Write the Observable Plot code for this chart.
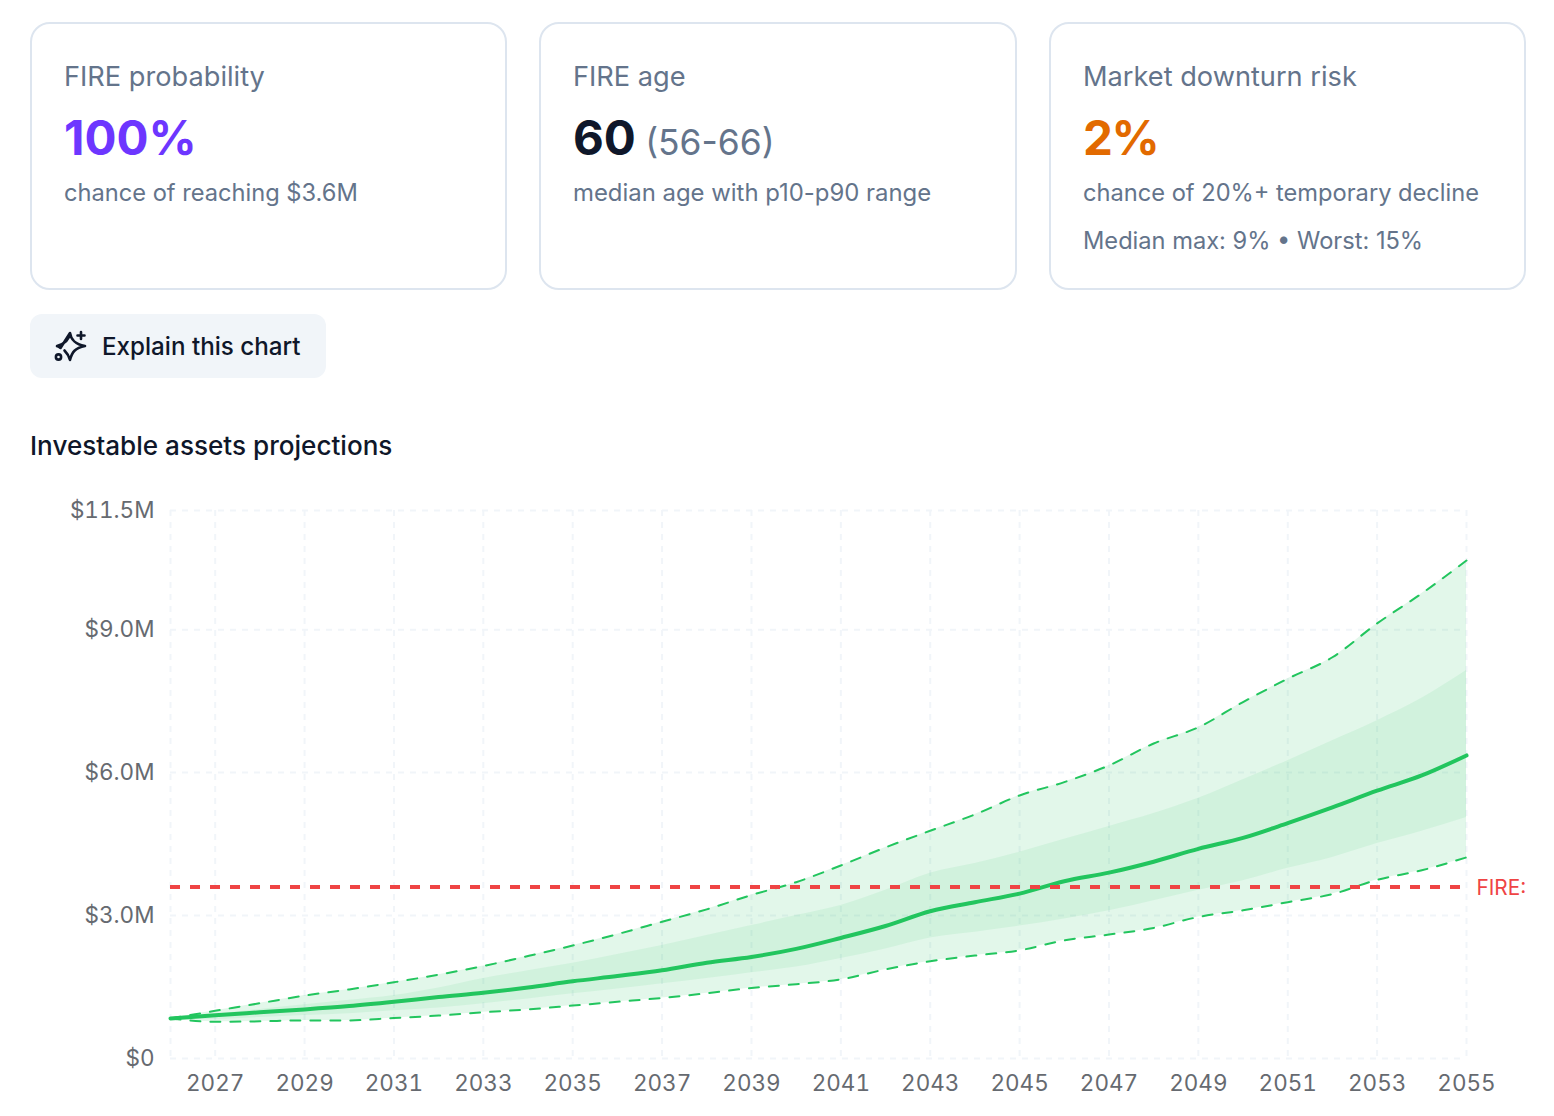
<!DOCTYPE html>
<html><head><meta charset="utf-8">
<script src="https://cdn.jsdelivr.net/npm/d3@7"></script>
<script src="https://cdn.jsdelivr.net/npm/@observablehq/plot@0.6"></script>
<style>
html,body{margin:0;padding:0;background:#fff;width:1554px;height:1116px;overflow:hidden;font-family:Inter,sans-serif}
.card{position:absolute;top:22px;height:264px;width:473px;border:2px solid #dde5ef;border-radius:20px;box-sizing:content-box}
.t{position:absolute;white-space:nowrap;line-height:1}
.lab{font-size:27.2px;color:#64748b;top:39px;left:32px}
.val{font-size:47.5px;font-weight:700;top:90px;left:32px}
.sub{font-size:23.65px;color:#64748b;top:157px;left:32px}
#btn{position:absolute;left:30px;top:314px;width:296px;height:64px;background:#f1f5f9;border-radius:12px}
#title{position:absolute;left:30px;top:433px;font-size:26.1px;font-weight:500;color:#0f172a;line-height:1;white-space:nowrap}
#chart{position:absolute;left:30px;top:490px}
</style></head><body>
<div class="card" style="left:30px">
<div class="t lab">FIRE probability</div>
<div class="t val" style="color:#6d36ff">100%</div>
<div class="t sub">chance of reaching $3.6M</div>
</div>
<div class="card" style="left:539px;width:474px">
<div class="t lab">FIRE age</div>
<div class="t val" style="color:#0f172a">60 <span style="font-size:35.4px;font-weight:400;color:#64748b;margin-left:-2px">(56-66)</span></div>
<div class="t sub" style="font-size:23.9px">median age with p10-p90 range</div>
</div>
<div class="card" style="left:1049px">
<div class="t lab">Market downturn risk</div>
<div class="t val" style="color:#e26a00;letter-spacing:-1.5px">2%</div>
<div class="t sub">chance of 20%+ temporary decline</div>
<div class="t sub" style="top:205px">Median max: 9% • Worst: 15%</div>
</div>
<div id="btn">
<svg style="position:absolute;left:24px;top:16px" width="34" height="34" viewBox="0 0 34 34" fill="none" stroke="#0f172a" stroke-width="2.6" stroke-linejoin="round" stroke-linecap="round">
<path d="M16 3C17 10 21 14 31 16C21 18 18 22 16 30C15 26 13 23 10.5 20.5M6.5 18C5.5 17 4 16.5 3 16C11 14 15 10 16 3Z"/>
<path d="M27 2v7M23.5 5.5h7"/><circle cx="4.5" cy="27" r="2.6"/>
</svg>
<div class="t" style="left:72px;top:21px;font-size:24.2px;font-weight:500;color:#0f172a">Explain this chart</div>
</div>
<div id="title">Investable assets projections</div>
<div id="chart"></div>
<script>
const years=[2026,2027,2028,2029,2030,2031,2032,2033,2034,2035,2036,2037,2038,2039,2040,2041,2042,2043,2044,2045,2046,2047,2048,2049,2050,2051,2052,2053,2054,2055];
const p10=[.84,.77,.78,.80,.80,.85,.90,.97,1.03,1.11,1.19,1.27,1.37,1.48,1.56,1.66,1.87,2.04,2.16,2.27,2.48,2.60,2.74,2.97,3.11,3.28,3.45,3.75,3.95,4.22];
const p25=[.84,.82,.86,.90,.94,1.0,1.06,1.15,1.25,1.36,1.46,1.57,1.68,1.80,1.92,2.10,2.30,2.53,2.65,2.78,2.93,3.10,3.31,3.53,3.73,3.99,4.22,4.51,4.77,5.06];
const p50=[.84,.91,.97,1.03,1.10,1.19,1.29,1.38,1.49,1.62,1.73,1.85,2.01,2.13,2.30,2.53,2.78,3.09,3.28,3.46,3.72,3.90,4.13,4.40,4.63,4.94,5.27,5.62,5.94,6.36];
const p75=[.84,.93,1.03,1.13,1.22,1.32,1.48,1.68,1.84,2.0,2.18,2.37,2.58,2.79,3.0,3.21,3.53,3.89,4.09,4.33,4.6,4.87,5.14,5.46,5.85,6.25,6.67,7.09,7.56,8.14];
const p90=[.84,1.0,1.16,1.32,1.45,1.60,1.76,1.94,2.15,2.37,2.61,2.87,3.13,3.43,3.70,4.05,4.43,4.78,5.12,5.52,5.8,6.15,6.61,6.95,7.48,7.97,8.42,9.13,9.76,10.45];
const xTicks=[2027,2029,2031,2033,2035,2037,2039,2041,2043,2045,2047,2049,2051,2053,2055];
const xGrid=[2026,...xTicks];
const yTicks=[0,3,6,9,11.5];
const fireTarget=3.6;
const fireLabel="FIRE:";
const rows=years.map((year,i)=>({year,p10:p10[i],p25:p25[i],p50:p50[i],p75:p75[i],p90:p90[i]}));
const yFmt=d=>d===0?"$0":"$"+d.toFixed(1)+"M";
const curve="monotone-x";
const gridStyle={stroke:"#f1f5f9",strokeWidth:2,strokeDasharray:"6 6"};
const green="#22c55e", red="#ef4444";
const chart=Plot.plot({
  width:1496,height:626,marginLeft:140,marginRight:60,marginTop:20,marginBottom:58,
  style:{fontFamily:"Inter, sans-serif",fontSize:"22.5px",color:"#666a70",background:"transparent",overflow:"visible"},
  x:{domain:[2026,2055],label:null},
  y:{domain:[0,11.5],label:null},
  marks:[
    Plot.ruleX(xGrid,{...gridStyle}),
    Plot.ruleY(yTicks,{...gridStyle}),
    Plot.areaY(rows,{x:"year",y1:"p10",y2:"p90",fill:green,fillOpacity:.135,curve}),
    Plot.areaY(rows,{x:"year",y1:"p25",y2:"p75",fill:green,fillOpacity:.085,curve}),
    Plot.lineY(rows,{x:"year",y:"p90",stroke:green,strokeWidth:2,strokeDasharray:"10 10",curve}),
    Plot.lineY(rows,{x:"year",y:"p10",stroke:green,strokeWidth:2,strokeDasharray:"10 10",curve}),
    Plot.lineY(rows,{x:"year",y:"p50",stroke:green,strokeWidth:4,curve}),
    Plot.ruleY([fireTarget],{stroke:red,strokeWidth:4,strokeDasharray:"10 10"}),
    Plot.text([fireTarget],{x:()=>2055,y:d=>d,text:()=>fireLabel,textAnchor:"start",dx:10,dy:1,fill:red,fontSize:20.8}),
    Plot.axisX({ticks:xTicks,tickFormat:d=>String(d),tickSize:0,tickPadding:17,fontSize:22.5,label:null}),
    Plot.axisY({ticks:yTicks,tickFormat:yFmt,tickSize:0,tickPadding:16,fontSize:22.5,label:null})
  ]
});
document.getElementById("chart").appendChild(chart);
</script>
</body></html>
